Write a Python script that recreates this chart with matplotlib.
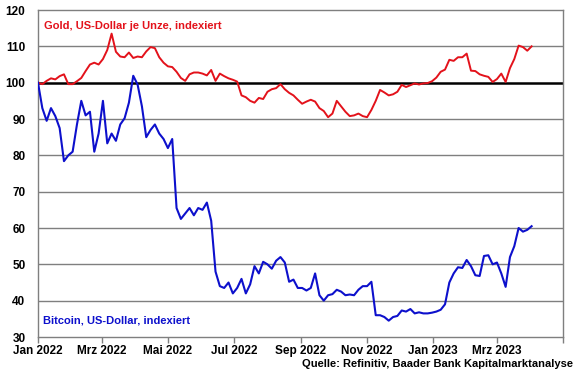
import matplotlib
matplotlib.use("Agg")
import matplotlib.pyplot as plt
import pandas as pd

# sampling dates (every 4 days from 1 Jan 2022)
dates = pd.date_range("2022-01-01", periods=115, freq="4D")

gold = [100.0, 99.6, 100.5, 101.2, 100.9, 101.8, 102.3, 99.6, 99.6, 100.4,
        101.3, 103.2, 105.0, 105.5, 105.0, 106.5, 109.0, 113.5, 108.5, 107.2,
        107.0, 108.3, 106.8, 107.2, 107.0, 108.6, 109.8, 109.5, 107.0, 105.5,
        104.5, 104.3, 103.0, 101.3, 100.5, 102.3, 102.8, 102.8, 102.5, 102.0,
        103.5, 100.5, 102.5, 101.8, 101.2, 100.8, 100.3, 96.5, 96.0, 95.0,
        94.5, 95.8, 95.5, 97.5, 98.2, 98.5, 99.6, 98.2, 97.2, 96.5,
        95.3, 94.2, 94.8, 95.3, 94.8, 93.0, 92.2, 90.5, 91.5, 95.0,
        93.5, 92.0, 90.8, 91.0, 91.5, 90.8, 90.5, 92.5, 95.0, 98.0,
        97.3, 96.5, 96.8, 97.5, 99.4, 98.8, 99.3, 99.8, 99.5, 99.8,
        99.9, 100.4, 101.4, 103.0, 103.6, 106.3, 106.0, 107.0, 107.0, 108.0,
        103.3, 103.2, 102.3, 101.9, 101.6, 100.2, 101.0, 102.5, 100.2, 104.0,
        106.5, 110.2, 109.8, 108.8, 110.0]

bitcoin = [100.0, 93.0, 89.5, 93.0, 90.8, 87.5, 78.4, 80.0, 81.0, 88.5,
           95.0, 91.0, 92.0, 81.0, 86.0, 95.0, 83.3, 86.0, 84.0, 88.5,
           90.2, 94.5, 101.9, 99.5, 93.5, 85.0, 87.0, 88.5, 86.0, 84.5,
           82.0, 84.5, 65.5, 62.5, 64.0, 65.5, 63.5, 65.5, 65.0, 67.0,
           62.0, 48.0, 44.0, 43.5, 45.0, 42.0, 43.5, 46.0, 42.0, 44.5,
           49.5, 47.5, 50.7, 50.0, 48.8, 51.0, 52.0, 50.5, 45.2, 45.8,
           43.5, 43.5, 42.8, 43.5, 47.5, 41.5, 40.0, 41.5, 41.8, 43.0,
           42.5, 41.5, 41.7, 41.5, 43.0, 44.0, 44.0, 45.2, 36.0, 36.0,
           35.5, 34.5, 35.5, 35.8, 37.3, 37.0, 37.7, 36.5, 36.8, 36.5,
           36.5, 36.7, 37.0, 37.5, 39.0, 45.0, 47.5, 49.2, 49.0, 51.2,
           49.5, 47.0, 46.8, 52.3, 52.5, 50.0, 50.5, 47.5, 43.8, 52.0,
           55.0, 60.0, 59.0, 59.5, 60.5]

x_ticks = ["2022-01-01", "2022-03-01", "2022-05-01", "2022-07-01", "2022-09-01",
           "2022-11-01", "2023-01-01", "2023-03-01", "2023-05-01"]
x_labels = ["Jan 2022", "Mrz 2022", "Mai 2022", "Jul 2022", "Sep 2022",
            "Nov 2022", "Jan 2023", "Mrz 2023", ""]
y_ticks = [30, 40, 50, 60, 70, 80, 90, 100, 110, 120]

plt.rcParams["font.family"] = ["Liberation Sans", "DejaVu Sans"]

fig = plt.figure(figsize=(5.8, 3.75), dpi=100)
ax = fig.add_axes([0.0655, 0.1013, 0.9052, 0.872])

for v in y_ticks[1:-1]:
    if v != 100:
        ax.axhline(v, color="#7f7f7f", lw=1.0, zorder=1)
ax.axhline(100, color="black", lw=1.8, zorder=2)

ax.plot(dates, gold, color="#e3121b", lw=1.4, zorder=3)
ax.plot(dates, bitcoin, color="#0d10cc", lw=1.5, zorder=3)

ax.set_ylim(30, 120)
ax.set_xlim(pd.Timestamp("2022-01-01"), pd.Timestamp("2023-05-01"))
ax.set_yticks(y_ticks)
ax.set_yticklabels([str(v) for v in y_ticks], fontsize=8.5, fontweight="bold")
ax.set_xticks([pd.Timestamp(d) for d in x_ticks])
ax.set_xticklabels(x_labels, fontsize=8.5, fontweight="bold")
ax.tick_params(axis="y", length=0, pad=9)
ax.tick_params(axis="x", length=4, width=1, color="#7f7f7f", pad=2, direction="out")

for s in ax.spines.values():
    s.set_color("#7f7f7f")
    s.set_linewidth(1.0)

ax.text(0.012, 0.965, "Gold, US-Dollar je Unze, indexiert", transform=ax.transAxes,
        color="#e3121b", fontsize=8.0, fontweight="bold", va="top", ha="left")
ax.text(0.01, 0.035, "Bitcoin, US-Dollar, indexiert", transform=ax.transAxes,
        color="#0d10cc", fontsize=8.0, fontweight="bold", va="bottom", ha="left")
fig.text(0.988, 0.03, "Quelle: Refinitiv, Baader Bank Kapitalmarktanalyse",
         fontsize=8.0, fontweight="bold", ha="right", va="center")

fig.savefig("out.png", dpi=100)
